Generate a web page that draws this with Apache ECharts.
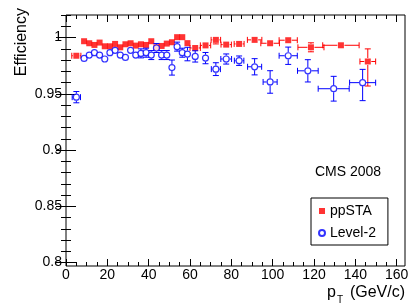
<!DOCTYPE html>
<html><head><meta charset="utf-8">
<script src="https://cdn.jsdelivr.net/npm/echarts@6/dist/echarts.min.js"></script>
<style>html,body{margin:0;padding:0;background:#fff}#c{width:415px;height:306px}</style>
</head><body><div id="c"></div>
<script>
// ---- tick labels ----
const xMajor = [0, 20, 40, 60, 80, 100, 120, 140, 160];
const yMajor = [0.8, 0.85, 0.9, 0.95, 1];

// ---- ppSTA (red squares) ----
const redX    = [5, 8.75, 11.25, 13.75, 16.25, 18.75, 21.25, 23.75, 26.25, 28.75, 31.25, 33.75, 36.25, 38.75, 41.25, 43.75, 46.25, 48.75, 51.25, 53.75, 56.25, 58.75, 62.5, 67.5, 72.5, 77.5, 83.75, 91.25, 98.75, 107.5, 118.5, 133, 146];
const redY    = [0.9838, 0.9967, 0.9949, 0.9934, 0.9955, 0.9922, 0.9922, 0.9943, 0.9913, 0.994, 0.9949, 0.9928, 0.994, 0.9934, 0.9967, 0.9913, 0.9925, 0.9946, 0.9958, 1.0003, 1.0003, 0.995, 0.9907, 0.993, 0.9979, 0.9937, 0.9943, 0.9979, 0.9949, 0.9976, 0.9913, 0.9931, 0.9787];
const redXErr = [2.2, 1.25, 1.25, 1.25, 1.25, 1.25, 1.25, 1.25, 1.25, 1.25, 1.25, 1.25, 1.25, 1.25, 1.25, 1.25, 1.25, 1.25, 1.25, 1.25, 1.25, 1.25, 2.5, 2.5, 2.3, 2.5, 2.4, 3.5, 4.5, 4.4, 6.3, 8.8, 3.8];
const redYLo  = [0.002, 0.001, 0.001, 0.001, 0.001, 0.001, 0.001, 0.001, 0.001, 0.001, 0.001, 0.001, 0.001, 0.001, 0.001, 0.001, 0.002, 0.002, 0.002, 0.002, 0.002, 0.003, 0.003, 0.003, 0.0036, 0.003, 0.003, 0.003, 0.003, 0.003, 0.004, 0.003, 0.0218];
const redYHi  = [0.002, 0.001, 0.001, 0.001, 0.001, 0.001, 0.001, 0.001, 0.001, 0.001, 0.001, 0.001, 0.001, 0.001, 0.001, 0.001, 0.002, 0.002, 0.002, 0.0005, 0.0005, 0.002, 0.003, 0.003, 0.002, 0.003, 0.003, 0.002, 0.003, 0.002, 0.004, 0.003, 0.0112];

// ---- Level-2 (blue open circles) ----
const blueX    = [5, 8.75, 11.25, 13.75, 16.25, 18.75, 21.25, 23.75, 26.25, 28.75, 31.25, 33.75, 36.25, 38.75, 41.25, 43.75, 46.25, 48.75, 51.25, 53.75, 56.25, 58.75, 62.5, 67.5, 72.5, 77.5, 83.75, 91.25, 98.75, 107.5, 117, 129.5, 143.5];
const blueY    = [0.947, 0.9814, 0.9844, 0.9865, 0.9844, 0.9809, 0.9865, 0.9886, 0.9844, 0.9823, 0.9886, 0.9844, 0.9859, 0.9865, 0.9844, 0.9907, 0.9844, 0.9844, 0.9733, 0.9919, 0.9865, 0.9853, 0.9832, 0.9817, 0.9719, 0.9809, 0.9794, 0.974, 0.9605, 0.9838, 0.9704, 0.9545, 0.9599];
const blueXErr = [2, 1.25, 1.25, 1.25, 1.25, 1.25, 1.25, 1.25, 1.25, 1.25, 1.25, 1.25, 1.25, 1.25, 1.25, 1.25, 1.25, 1.25, 1.25, 1.25, 1.25, 1.25, 1.2, 1.5, 2.2, 2.6, 2.3, 3.4, 3.4, 4.4, 5, 7.5, 6.3];
const blueYLo  = [0.005, 0.003, 0.003, 0.003, 0.003, 0.003, 0.003, 0.003, 0.003, 0.003, 0.003, 0.003, 0.004, 0.004, 0.004, 0.004, 0.004, 0.004, 0.0067, 0.004, 0.004, 0.006, 0.005, 0.005, 0.0057, 0.0045, 0.0042, 0.0072, 0.010, 0.0077, 0.0099, 0.011, 0.016];
const blueYHi  = [0.005, 0.003, 0.003, 0.003, 0.003, 0.003, 0.003, 0.003, 0.003, 0.003, 0.003, 0.003, 0.004, 0.004, 0.004, 0.004, 0.004, 0.004, 0.0067, 0.004, 0.004, 0.006, 0.005, 0.005, 0.0057, 0.0045, 0.0042, 0.0072, 0.010, 0.0077, 0.0099, 0.011, 0.0118];

const FONT = 'Liberation Sans';
const X_MIN = 0, X_MAX = 164, Y_MIN = 0.797, Y_MAX = 1.02;

const xMinor = [];
for (let v = 5; v <= 160; v += 5) if (v % 20 !== 0) xMinor.push(v);
const yMinor = [];
for (let i = 80; i <= 102; i++) if (i % 5 !== 0) yMinor.push(i / 100);

function errTable(xs, ys, xe, yl, yh) {
  return xs.map((x, i) => [x, ys[i], xe[i], xe[i], yl[i], yh[i]]);
}
function ptTable(xs, ys) { return xs.map((x, i) => [x, ys[i]]); }

function errRender(color, r) {
  return function (params, api) {
    const x = api.value(0), y = api.value(1);
    const c = api.coord([x, y]);
    const L = api.coord([x - api.value(2), y])[0];
    const R = api.coord([x + api.value(3), y])[0];
    const B = api.coord([x, y - api.value(4)])[1];
    const T = api.coord([x, y + api.value(5)])[1];
    const cap = 3;
    const st = { stroke: color, lineWidth: 1 };
    const ch = [];
    const line = (x1, y1, x2, y2) => ch.push({ type: 'line', shape: { x1, y1, x2, y2 }, style: st });
    if (c[0] - L > r) { line(L, c[1], c[0] - r, c[1]); line(L, c[1] - cap, L, c[1] + cap); }
    if (R - c[0] > r) { line(c[0] + r, c[1], R, c[1]); line(R, c[1] - cap, R, c[1] + cap); }
    if (c[1] - T > r) { line(c[0], T, c[0], c[1] - r); line(c[0] - cap, T, c[0] + cap, T); }
    if (B - c[1] > r) { line(c[0], c[1] + r, c[0], B); line(c[0] - cap, B, c[0] + cap, B); }
    return { type: 'group', children: ch };
  };
}

function xAx(grid, pos, vals, len, labels) {
  return {
    type: 'value', gridIndex: grid, position: pos, min: X_MIN, max: X_MAX,
    axisLine: { show: false }, splitLine: { show: false },
    axisTick: { show: true, inside: true, length: len, customValues: vals, lineStyle: { color: '#000', width: 1 } },
    axisLabel: labels ? { show: true, customValues: vals, fontSize: 14, fontFamily: FONT, color: '#000', margin: 2 } : { show: false }
  };
}
function yAx(grid, pos, vals, len, labels) {
  return {
    type: 'value', gridIndex: grid, position: pos, min: Y_MIN, max: Y_MAX,
    axisLine: { show: false }, splitLine: { show: false },
    axisTick: { show: true, inside: true, length: len, customValues: vals, lineStyle: { color: '#000', width: 1 } },
    axisLabel: labels ? { show: true, customValues: vals, fontSize: 14, fontFamily: FONT, color: '#000', margin: 4 } : { show: false }
  };
}

const chart = echarts.init(document.getElementById('c'), null, { renderer: 'canvas' });
chart.setOption({
  animation: false,
  backgroundColor: '#fff',
  grid: [
    { left: 66, right: 10, top: 15, bottom: 40, show: true, borderColor: '#000', borderWidth: 1, backgroundColor: '#fff' },
    { left: 66, right: 10, top: 15, bottom: 40, show: false }
  ],
  xAxis: [
    xAx(0, 'bottom', xMajor, 7, true),
    xAx(0, 'top', xMajor, 7, false),
    xAx(1, 'bottom', xMinor, 4, false),
    xAx(1, 'top', xMinor, 4, false)
  ],
  yAxis: [
    yAx(0, 'left', yMajor, 10, true),
    yAx(0, 'right', yMajor, 10, false),
    yAx(1, 'left', yMinor, 5, false),
    yAx(1, 'right', yMinor, 5, false)
  ],
  legend: {
    data: ['ppSTA', 'Level-2'],
    orient: 'vertical', left: 311, top: 198,
    padding: [6, 12, 5, 7], itemGap: 8, itemWidth: 6, itemHeight: 6,
    borderColor: '#000', borderWidth: 1, backgroundColor: '#fff', borderRadius: 0,
    textStyle: { fontSize: 14, fontFamily: FONT, color: '#000' }
  },
  graphic: [
    { type: 'text', left: 315, top: 165, style: { text: 'CMS 2008', fontSize: 14, fontFamily: FONT, fill: '#000' } },
    { type: 'text', x: 22, y: 8, rotation: Math.PI / 2, style: { text: 'Efficiency', fontSize: 16, fontFamily: FONT, fill: '#000', align: 'right', verticalAlign: 'middle' } },
    { type: 'text', x: 405, y: 293, style: { text: '(GeV/c)', fontSize: 16, fontFamily: FONT, fill: '#000', align: 'right', verticalAlign: 'middle' } },
    { type: 'text', x: 343, y: 300, style: { text: 'T', fontSize: 10, fontFamily: FONT, fill: '#000', align: 'right', verticalAlign: 'middle' } },
    { type: 'text', x: 336, y: 293, style: { text: 'p', fontSize: 16, fontFamily: FONT, fill: '#000', align: 'right', verticalAlign: 'middle' } }
  ],
  series: [
    { type: 'custom', name: 'ppSTA-err', xAxisIndex: 0, yAxisIndex: 0, renderItem: errRender('#ff0000', 3.5),
      data: errTable(redX, redY, redXErr, redYLo, redYHi), z: 2, silent: true },
    { type: 'scatter', name: 'ppSTA', xAxisIndex: 0, yAxisIndex: 0, symbol: 'rect', symbolSize: 6,
      itemStyle: { color: '#ff0000' }, data: ptTable(redX, redY), z: 3 },
    { type: 'custom', name: 'Level-2-err', xAxisIndex: 0, yAxisIndex: 0, renderItem: errRender('#0000ff', 3.5),
      data: errTable(blueX, blueY, blueXErr, blueYLo, blueYHi), z: 4, silent: true },
    { type: 'scatter', name: 'Level-2', xAxisIndex: 0, yAxisIndex: 0, symbol: 'circle', symbolSize: 6,
      itemStyle: { color: '#fff', borderColor: '#0000ff', borderWidth: 1.2 }, data: ptTable(blueX, blueY), z: 5 }
  ]
});
</script></body></html>
